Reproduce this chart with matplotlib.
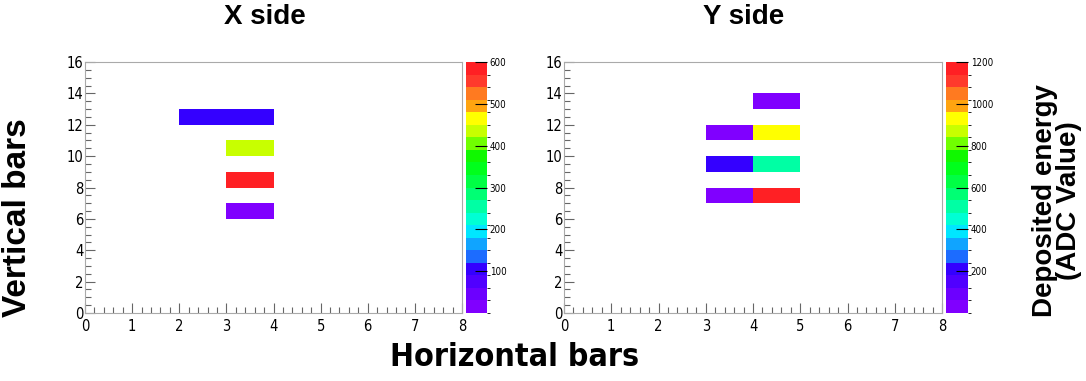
import numpy as np
import matplotlib
matplotlib.use('Agg')
import matplotlib.pyplot as plt
from matplotlib.colors import ListedColormap, BoundaryNorm
from matplotlib.ticker import MultipleLocator

# ── Data ─────────────────────────────────────────────
x_side_xbin = [2, 3, 3, 3, 3]
x_side_ybin = [12, 12, 10, 8, 6]
x_side_val = [100, 100, 430, 590, 20]

y_side_xbin = [4, 3, 4, 3, 4, 3, 4]
y_side_ybin = [13, 11, 11, 9, 9, 7, 7]
y_side_val = [40, 40, 930, 200, 530, 40, 1170]

x_zmax = 600
y_zmax = 1200
x_cticks = [100, 200, 300, 400, 500, 600]
y_cticks = [200, 400, 600, 800, 1000, 1200]

# ROOT-like rainbow palette, 20 contours (bottom -> top)
palette = ['#8000ff', '#6c00ff', '#5000ff', '#3400ff', '#1c6cff',
           '#10a4ff', '#00e6ff', '#00ffd4', '#00ffa4', '#00ff74',
           '#00ff44', '#00ff1c', '#10f800', '#70ff00', '#c8ff00',
           '#ffff00', '#ffa410', '#ff7a20', '#ff3a2c', '#ff2024']
cmap = ListedColormap(palette)

plt.rcParams['font.family'] = ['DejaVu Sans']
plt.rcParams['font.stretch'] = 'condensed'
ARIAL = ['Liberation Sans', 'DejaVu Sans']

W, H = 1086, 381
fig = plt.figure(figsize=(W / 100, H / 100), dpi=100)

def fx(px): return px / W
def fy(py): return 1 - py / H

panels = [
    (85, 462, 466, 487, 265, 'X side', x_side_xbin, x_side_ybin, x_side_val, x_zmax, x_cticks),
    (564, 942, 946, 968, 744, 'Y side', y_side_xbin, y_side_ybin, y_side_val, y_zmax, y_cticks),
]

for x0, x1, c0, c1, tx, title, xb, yb, vals, zmax, cticks in panels:
    ax = fig.add_axes([fx(x0), fy(313), fx(x1 - x0), fy(62) - fy(313)])
    grid = np.full((16, 8), np.nan)
    for i, j, v in zip(xb, yb, vals):
        grid[j, i] = v
    norm = BoundaryNorm(np.linspace(0, zmax, 21), cmap.N)
    mesh = ax.pcolormesh(np.arange(9), np.arange(17), np.ma.masked_invalid(grid),
                         cmap=cmap, norm=norm)
    ax.set_xlim(0, 8)
    ax.set_ylim(0, 16)
    ax.xaxis.set_major_locator(MultipleLocator(1))
    ax.xaxis.set_minor_locator(MultipleLocator(0.2))
    ax.yaxis.set_major_locator(MultipleLocator(2))
    ax.yaxis.set_minor_locator(MultipleLocator(0.5))
    ax.tick_params(which='both', direction='in', colors='#666666', labelcolor='black',
                   labelsize=10.5, width=0.8)
    ax.tick_params(which='major', length=7)
    ax.tick_params(which='minor', length=4)
    ax.tick_params(axis='x', pad=4)
    ax.tick_params(axis='y', pad=1)
    for s in ax.spines.values():
        s.set_color('#aaaaaa')
        s.set_linewidth(0.8)
    fig.text(fx(tx), fy(17), title, ha='center', va='center',
             fontsize=20, fontweight='bold', family=ARIAL, fontstretch='normal')

    cax = fig.add_axes([fx(c0), fy(313), fx(c1 - c0), fy(62) - fy(313)])
    cb = fig.colorbar(mesh, cax=cax, ticks=cticks)
    cb.outline.set_linewidth(0)
    cax.tick_params(direction='in', length=9, width=0.8, labelsize=7, pad=2)
    cax.set_ylim(0, zmax)

fig.text(fx(18), fy(218), 'Vertical bars', rotation=90, ha='center', va='center',
         fontsize=24, fontweight='bold', family=ARIAL, fontstretch='normal')
fig.text(fx(515), fy(358), 'Horizontal bars', ha='center', va='center',
         fontsize=23, fontweight='bold')
fig.text(fx(1057), fy(201), 'Deposited energy\n(ADC Value)', rotation=90,
         ha='center', va='center', fontsize=20, fontweight='bold',
         linespacing=0.95, family=ARIAL, fontstretch='normal')

fig.savefig('out.png', dpi=100)
